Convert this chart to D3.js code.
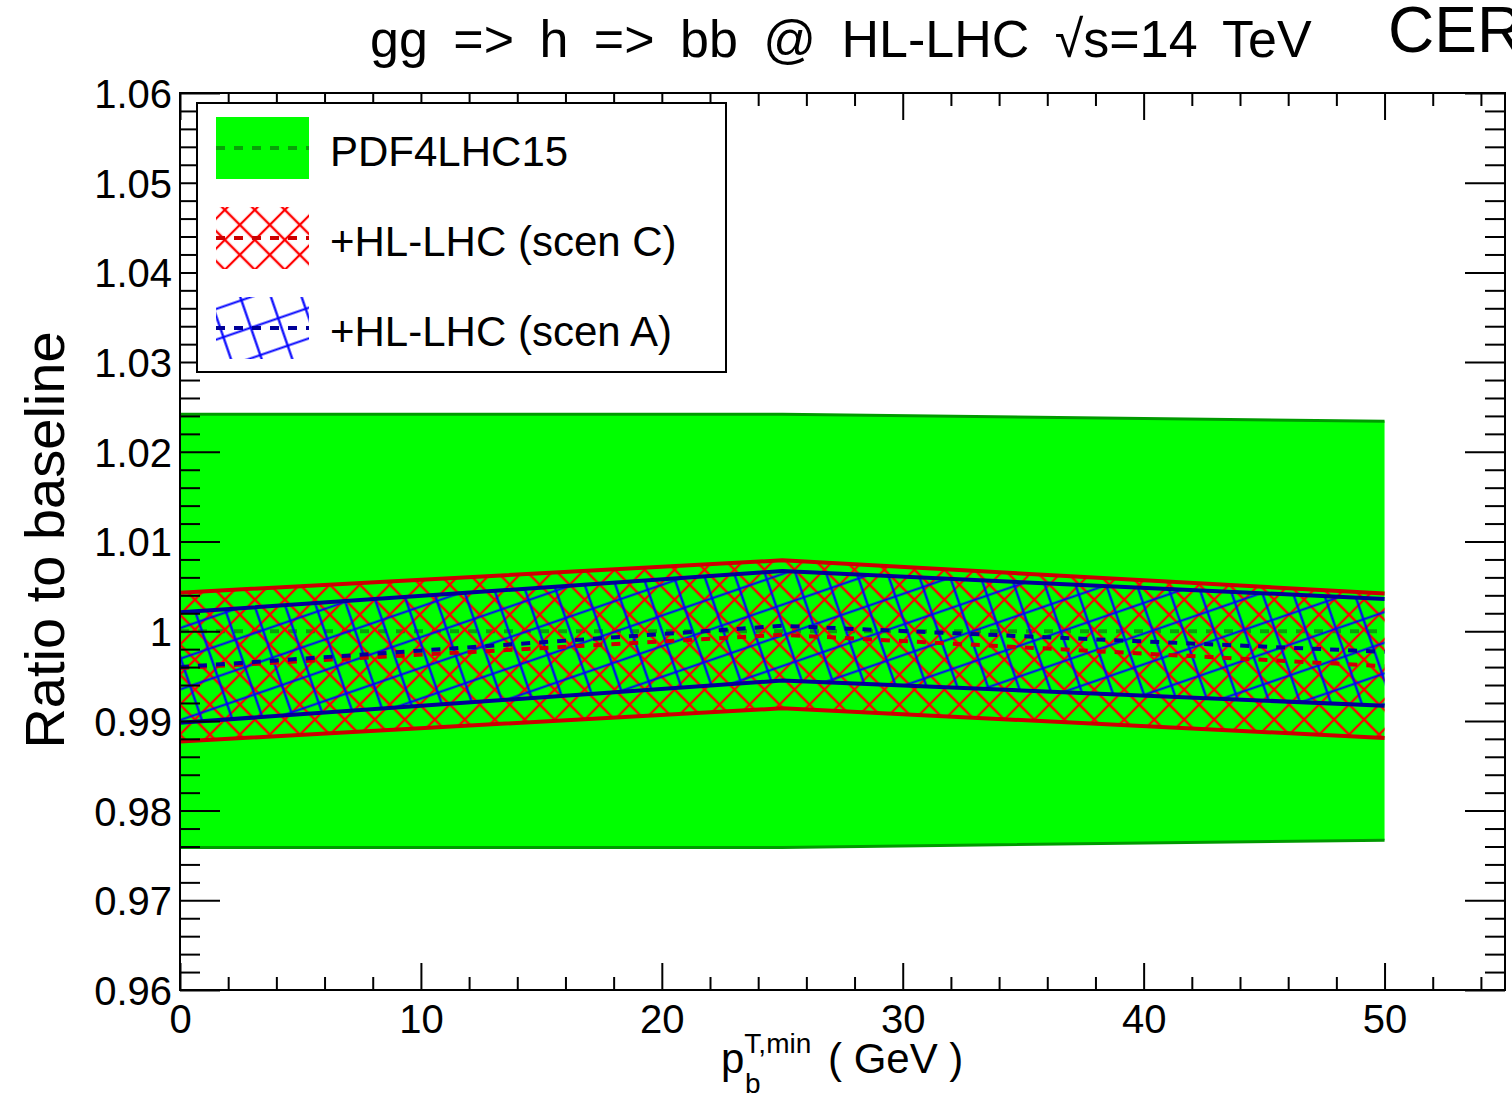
<!DOCTYPE html>
<html>
<head>
<meta charset="utf-8">
<script src="https://cdn.jsdelivr.net/npm/d3@7"></script>
<style>
  html, body { margin: 0; padding: 0; background: #fff; overflow: hidden; }
  svg text { font-family: "Liberation Sans", Arial, Helvetica, sans-serif; fill: #000; }
</style>
</head>
<body>
<div id="vis"></div>
<script>
// pT,min values (GeV) where the ratios were computed
const ptMin = [0, 25, 50];

// PDF4LHC15 band
const pdfCen = [1.0, 1.0, 1.0];
const pdfUp  = [1.0242, 1.0242, 1.0234];
const pdfDn  = [0.9759, 0.9759, 0.9767];

// +HL-LHC (scen C)
const scenCCen = [0.9959, 0.9996, 0.9961];
const scenCUp  = [1.0043, 1.0079, 1.0042];
const scenCDn  = [0.9877, 0.9914, 0.9881];

// +HL-LHC (scen A)
const scenACen = [0.9960, 1.0006, 0.9977];
const scenAUp  = [1.0021, 1.0067, 1.0036];
const scenADn  = [0.9898, 0.9945, 0.9917];

const xTicks = [0, 10, 20, 30, 40, 50];
const yTicks = [0.96, 0.97, 0.98, 0.99, 1.0, 1.01, 1.02, 1.03, 1.04, 1.05, 1.06];
const legendLabels = ["PDF4LHC15", "+HL-LHC (scen C)", "+HL-LHC (scen A)"];

// frame of the plot
var W = 1512, H = 1095;
var plotL = 180, plotR = 1505, plotT = 93, plotB = 990;

var svg = d3.select("#vis").append("svg")
  .attr("width", W)
  .attr("height", H);

var x = d3.scaleLinear().domain([0, 55]).range([plotL, plotR]);
var y = d3.scaleLinear().domain([0.96, 1.06]).range([plotB, plotT]);

var defs = svg.append("defs");

defs.append("clipPath").attr("id", "plotclip")
  .append("rect")
    .attr("x", plotL).attr("y", plotT)
    .attr("width", plotR - plotL).attr("height", plotB - plotT);

// red cross hatch (45 deg)
var redPat = defs.append("pattern")
  .attr("id", "hatchRed")
  .attr("patternUnits", "userSpaceOnUse")
  .attr("width", 21.2).attr("height", 21.2)
  .attr("patternTransform", "rotate(45)");
redPat.append("path")
  .attr("d", "M10.6,-1 V22.2 M-1,10.6 H22.2")
  .attr("stroke", "#ff0000").attr("stroke-width", 2.2);

// blue grid hatch, tilted
var bluePat = defs.append("pattern")
  .attr("id", "hatchBlue")
  .attr("patternUnits", "userSpaceOnUse")
  .attr("width", 29).attr("height", 29)
  .attr("patternTransform", "rotate(-19)");
bluePat.append("path")
  .attr("d", "M14.5,-1 V30 M-1,14.5 H30")
  .attr("stroke", "#0000ff").attr("stroke-width", 2.2);

var plot = svg.append("g").attr("clip-path", "url(#plotclip)");

var rows = function (cen, up, dn) {
  return ptMin.map(function (p, i) { return { x: p, c: cen[i], u: up[i], d: dn[i] }; });
};
var pdfRows = rows(pdfCen, pdfUp, pdfDn);
var cRows = rows(scenCCen, scenCUp, scenCDn);
var aRows = rows(scenACen, scenAUp, scenADn);

var band = d3.area().x(d => x(d.x)).y0(d => y(d.d)).y1(d => y(d.u));
var lineUp = d3.line().x(d => x(d.x)).y(d => y(d.u));
var lineDn = d3.line().x(d => x(d.x)).y(d => y(d.d));
var lineC = d3.line().x(d => x(d.x)).y(d => y(d.c));

// green PDF4LHC15 band
plot.append("path").datum(pdfRows).attr("d", band).attr("fill", "#00ff00");
plot.append("path").datum(pdfRows).attr("d", lineUp)
  .attr("fill", "none").attr("stroke", "#009a00").attr("stroke-width", 3);
plot.append("path").datum(pdfRows).attr("d", lineDn)
  .attr("fill", "none").attr("stroke", "#009a00").attr("stroke-width", 3);
plot.append("path").datum(pdfRows).attr("d", lineC)
  .attr("fill", "none").attr("stroke", "#0a8a0a").attr("stroke-width", 4)
  .attr("stroke-dasharray", "9,9").attr("opacity", 0.8);

// scen C
plot.append("path").datum(cRows).attr("d", band).attr("fill", "url(#hatchRed)");
[lineUp, lineDn].forEach(function (l) {
  plot.append("path").datum(cRows).attr("d", l)
    .attr("fill", "none").attr("stroke", "#cc0000").attr("stroke-width", 4);
});

// scen A
plot.append("path").datum(aRows).attr("d", band).attr("fill", "url(#hatchBlue)");
[lineUp, lineDn].forEach(function (l) {
  plot.append("path").datum(aRows).attr("d", l)
    .attr("fill", "none").attr("stroke", "#000099").attr("stroke-width", 4);
});

plot.append("path").datum(cRows).attr("d", lineC)
  .attr("fill", "none").attr("stroke", "#cc0000").attr("stroke-width", 4)
  .attr("stroke-dasharray", "9,9");
plot.append("path").datum(aRows).attr("d", lineC)
  .attr("fill", "none").attr("stroke", "#000099").attr("stroke-width", 4)
  .attr("stroke-dasharray", "9,9");

// axes: ticks on all four sides, ROOT style
var xMinor = d3.range(0, 55.001, 2).filter(v => xTicks.indexOf(v) < 0 && v <= 55);
var yMinor = d3.range(0.96, 1.0601, 0.002).filter(v => !yTicks.some(t => Math.abs(t - v) < 1e-6));

var blackTicks = g => g.selectAll("line").attr("stroke", "#000").attr("stroke-width", 2);

svg.append("g").attr("transform", "translate(0," + plotB + ")")
  .call(d3.axisBottom(x).tickValues(xTicks).tickSize(-27).tickFormat(d => d))
  .call(g => g.select(".domain").remove())
  .call(blackTicks)
  .call(g => g.selectAll("text").attr("font-size", 40).attr("dy", 0).attr("y", 43));
svg.append("g").attr("transform", "translate(0," + plotB + ")")
  .call(d3.axisBottom(x).tickValues(xMinor).tickSize(-13).tickFormat(""))
  .call(g => g.select(".domain").remove())
  .call(blackTicks);
svg.append("g").attr("transform", "translate(0," + plotT + ")")
  .call(d3.axisTop(x).tickValues(xTicks).tickSize(-27).tickFormat(""))
  .call(g => g.select(".domain").remove())
  .call(blackTicks);
svg.append("g").attr("transform", "translate(0," + plotT + ")")
  .call(d3.axisTop(x).tickValues(xMinor).tickSize(-13).tickFormat(""))
  .call(g => g.select(".domain").remove())
  .call(blackTicks);

var yFmt = d => String(+d.toFixed(2));
svg.append("g").attr("transform", "translate(" + plotL + ",0)")
  .call(d3.axisLeft(y).tickValues(yTicks).tickSize(-40).tickFormat(yFmt))
  .call(g => g.select(".domain").remove())
  .call(blackTicks)
  .call(g => g.selectAll("text").attr("font-size", 40).attr("x", -8).attr("dy", "0.36em"));
svg.append("g").attr("transform", "translate(" + plotL + ",0)")
  .call(d3.axisLeft(y).tickValues(yMinor).tickSize(-20).tickFormat(""))
  .call(g => g.select(".domain").remove())
  .call(blackTicks);
svg.append("g").attr("transform", "translate(" + plotR + ",0)")
  .call(d3.axisRight(y).tickValues(yTicks).tickSize(-40).tickFormat(""))
  .call(g => g.select(".domain").remove())
  .call(blackTicks);
svg.append("g").attr("transform", "translate(" + plotR + ",0)")
  .call(d3.axisRight(y).tickValues(yMinor).tickSize(-20).tickFormat(""))
  .call(g => g.select(".domain").remove())
  .call(blackTicks);

// frame
svg.append("rect")
  .attr("x", plotL).attr("y", plotT)
  .attr("width", plotR - plotL).attr("height", plotB - plotT)
  .attr("fill", "none").attr("stroke", "#000").attr("stroke-width", 2);

// legend
var legend = svg.append("g");
legend.append("rect")
  .attr("x", 197).attr("y", 103).attr("width", 529).attr("height", 269)
  .attr("fill", "#fff").attr("stroke", "#000").attr("stroke-width", 2);

var legItems = [
  { fill: "#00ff00", dash: "#0a8a0a", op: 0.8 },
  { fill: "url(#hatchRed)", dash: "#cc0000", op: 1 },
  { fill: "url(#hatchBlue)", dash: "#000099", op: 1 }
];
legItems.forEach(function (it, i) {
  var cy = 148 + i * 90;
  legend.append("rect")
    .attr("x", 216).attr("y", cy - 31).attr("width", 93).attr("height", 62)
    .attr("fill", it.fill);
  legend.append("line")
    .attr("x1", 216).attr("x2", 309).attr("y1", cy).attr("y2", cy)
    .attr("stroke", it.dash).attr("stroke-width", 4)
    .attr("stroke-dasharray", "9,9").attr("opacity", it.op);
  legend.append("text")
    .attr("x", 330).attr("y", cy + 18)
    .attr("font-size", 42)
    .text(legendLabels[i]);
});

// title
svg.append("text")
  .attr("x", 370).attr("y", 57)
  .attr("font-size", 52)
  .style("word-spacing", "11px")
  .text("gg => h => bb @ HL-LHC √s=14 TeV");
svg.append("text")
  .attr("x", 1388).attr("y", 52)
  .attr("font-size", 64)
  .text("CERN");

// y title
svg.append("text")
  .attr("transform", "translate(64,540) rotate(-90)")
  .attr("text-anchor", "middle")
  .attr("font-size", 56)
  .text("Ratio to baseline");

// x title
var xt = svg.append("text").attr("x", 721).attr("y", 1073).attr("font-size", 42);
xt.append("tspan").text("p");
xt.append("tspan").attr("font-size", 28).attr("dy", -20).text("T,min");
svg.append("text").attr("x", 745).attr("y", 1093).attr("font-size", 28).text("b");
svg.append("text").attr("x", 828).attr("y", 1073).attr("font-size", 42).text("( GeV )");
</script>
</body>
</html>
